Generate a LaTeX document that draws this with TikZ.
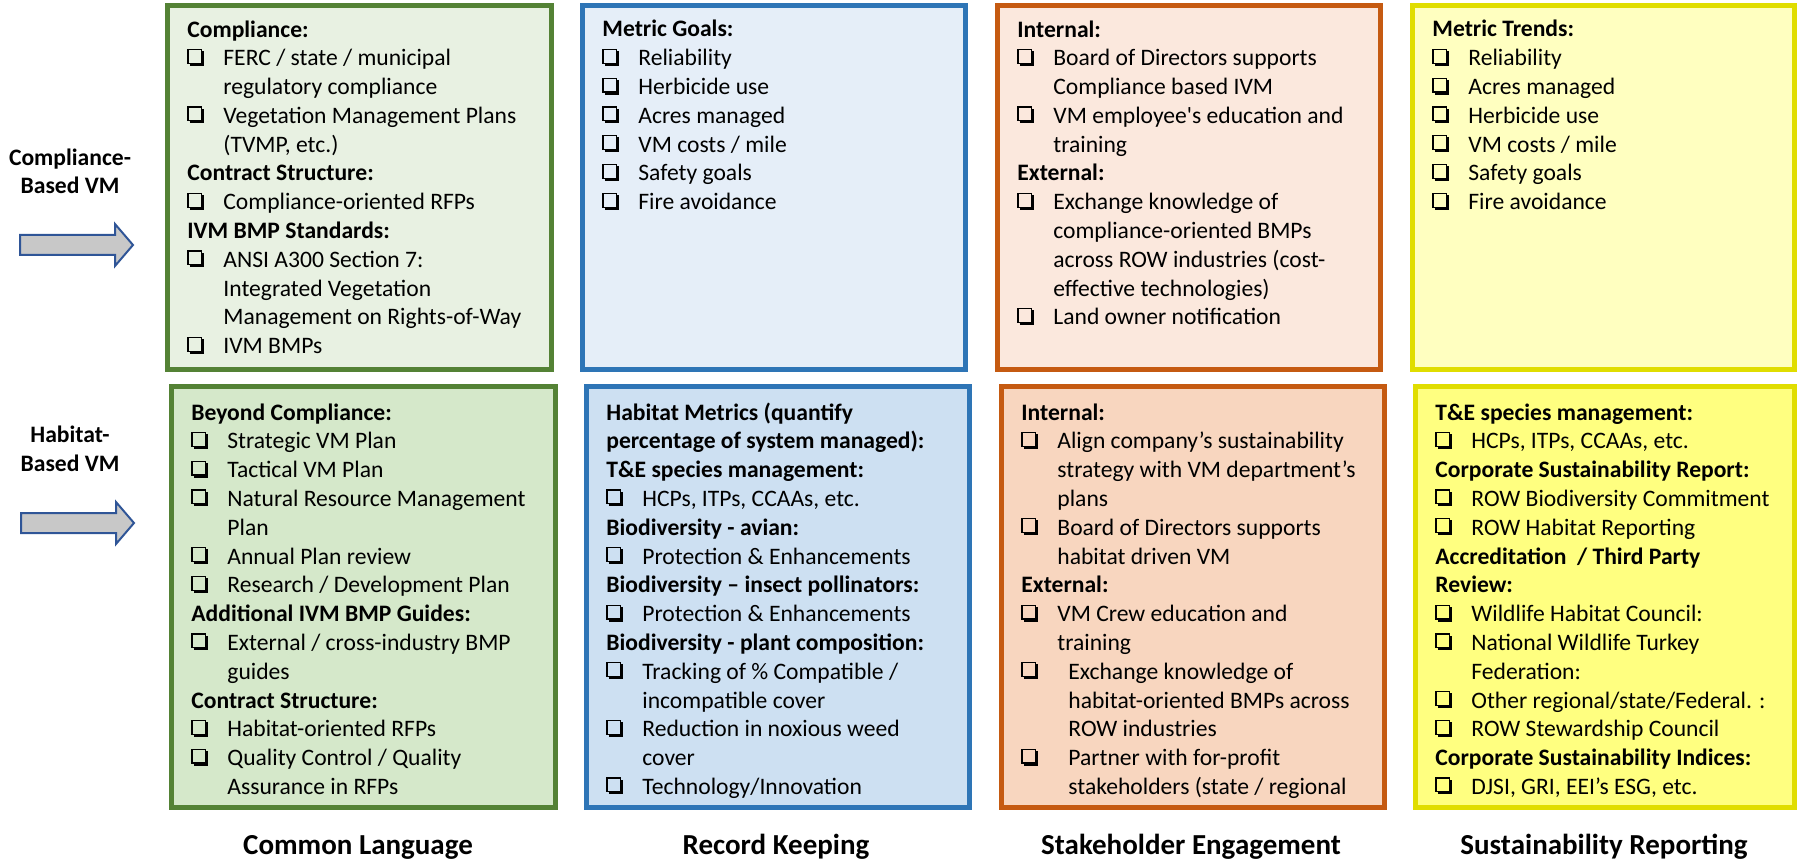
\documentclass[tikz,border=0pt]{standalone}
\usepackage{fontspec}
\setmainfont{Carlito}

\definecolor{grnline}{HTML}{548235}
\definecolor{grnfillA}{HTML}{E8F1E2}
\definecolor{grnfillB}{HTML}{D5E8CA}
\definecolor{blueline}{HTML}{2E75B6}
\definecolor{bluefillA}{HTML}{E5EEF8}
\definecolor{bluefillB}{HTML}{CDE0F2}
\definecolor{orgline}{HTML}{C55A11}
\definecolor{orgfillA}{HTML}{FBE8DD}
\definecolor{orgfillB}{HTML}{F8D6BF}
\definecolor{ylwline}{HTML}{E0DD00}
\definecolor{ylwfillA}{HTML}{FFFFC0}
\definecolor{ylwfillB}{HTML}{FFFF80}
\definecolor{arrfill}{HTML}{C8C8C8}
\definecolor{arrline}{HTML}{2F5597}

\newcommand\chkbox{\tikz[baseline=0pt,x=1pt,y=1pt]{\draw[line width=0.6pt] (0.3,1.3) rectangle (7.2,8.2); \draw[line width=1.2pt] (1.1,0.6) -- (7.9,0.6) -- (7.9,7.4);}}
\newcommand\itm{\makebox[18pt][l]{\chkbox}}
\newcommand\ind{\hspace*{18pt}}

\tikzset{
  box/.style={line width=2.5pt},
  % nodes are placed at the baseline of their last line
  txt/.style={anchor=base west, align=left, inner sep=0pt, font=\fontsize{11.8}{14.4}\selectfont},
  rowlab/.style={anchor=base, align=center, inner sep=0pt, font=\bfseries\fontsize{11.8}{14}\selectfont},
  collab/.style={anchor=base, inner sep=0pt, font=\bfseries\fontsize{14.5}{17}\selectfont},
  blockarrow/.style={draw=arrline, fill=arrfill, line width=1pt, line join=miter}
}

\begin{document}
\begin{tikzpicture}[x=0.5pt, y=-0.5pt]
\useasboundingbox (0,0) rectangle (1800,861);
% boxes
\draw[box, draw=grnline, fill=grnfillA] (167.5,5.5) rectangle (551.5,369.5);
\draw[box, draw=blueline, fill=bluefillA] (582.5,5.5) rectangle (965.5,369.5);
\draw[box, draw=orgline, fill=orgfillA] (997.5,5.5) rectangle (1380.5,369.5);
\draw[box, draw=ylwline, fill=ylwfillA] (1412.5,5.5) rectangle (1794.5,369.5);
\draw[box, draw=grnline, fill=grnfillB] (171.5,386.5) rectangle (555.5,807.5);
\draw[box, draw=blueline, fill=bluefillB] (586.5,386.5) rectangle (969.5,807.5);
\draw[box, draw=orgline, fill=orgfillB] (1001.5,386.5) rectangle (1384.5,807.5);
\draw[box, draw=ylwline, fill=ylwfillB] (1415.5,386.5) rectangle (1794.5,807.5);
% arrows
\draw[blockarrow] (20,235) -- (115,235) -- (115,224) -- (133,245) -- (115,266) -- (115,255) -- (20,255) -- cycle;
\draw[blockarrow] (21,513) -- (116,513) -- (116,502) -- (134,523) -- (116,544) -- (116,533) -- (21,533) -- cycle;
% row labels
\node[rowlab] (compvm) at (70,194) {Compliance-\\Based VM};
\node[rowlab] (habvm) at (70,471) {Habitat-\\Based VM};
% top row
\node[txt] (lang1) at (187,353.8) {\textbf{Compliance:}\\
\itm FERC / state / municipal\\
\ind regulatory compliance\\
\itm Vegetation Management Plans\\
\ind (TVMP, etc.)\\
\textbf{Contract Structure:}\\
\itm Compliance-oriented RFPs\\
\textbf{IVM BMP Standards:}\\
\itm ANSI A300 Section 7:\\
\ind Integrated Vegetation\\
\ind Management on Rights-of-Way\\
\itm IVM BMPs};
\node[txt] (rec1) at (602,209.8) {\textbf{Metric Goals:}\\
\itm Reliability\\
\itm Herbicide use\\
\itm Acres managed\\
\itm VM costs / mile\\
\itm Safety goals\\
\itm Fire avoidance};
\node[txt] (eng1) at (1017,325) {\textbf{Internal:}\\
\itm Board of Directors supports\\
\ind Compliance based IVM\\
\itm VM employee\textquotesingle s education and\\
\ind training\\
\textbf{External:}\\
\itm Exchange knowledge of\\
\ind compliance-oriented BMPs\\
\ind across ROW industries (cost-\\
\ind effective technologies)\\
\itm Land owner notification};
\node[txt] (rep1) at (1432,209.8) {\textbf{Metric Trends:}\\
\itm Reliability\\
\itm Acres managed\\
\itm Herbicide use\\
\itm VM costs / mile\\
\itm Safety goals\\
\itm Fire avoidance};
% bottom row
\node[txt] (lang2) at (191,794.4) {\textbf{Beyond Compliance:}\\
\itm Strategic VM Plan\\
\itm Tactical VM Plan\\
\itm Natural Resource Management\\
\ind Plan\\
\itm Annual Plan review\\
\itm Research / Development Plan\\
\textbf{Additional IVM BMP Guides:}\\
\itm External / cross-industry BMP\\
\ind guides\\
\textbf{Contract Structure:}\\
\itm Habitat-oriented RFPs\\
\itm Quality Control / Quality\\
\ind Assurance in RFPs};
\node[txt] (rec2) at (606,794.4) {\textbf{Habitat Metrics (quantify}\\
\textbf{percentage of system managed):}\\
\textbf{T\&E species management:}\\
\itm HCPs, ITPs, CCAAs, etc.\\
\textbf{Biodiversity - avian:}\\
\itm Protection \& Enhancements\\
\textbf{Biodiversity – insect pollinators:}\\
\itm Protection \& Enhancements\\
\textbf{Biodiversity - plant composition:}\\
\itm Tracking of \% Compatible /\\
\ind incompatible cover\\
\itm Reduction in noxious weed\\
\ind cover\\
\itm Technology/Innovation};
\node[txt] (eng2) at (1021,794.4) {\textbf{Internal:}\\
\itm Align company’s sustainability\\
\ind strategy with VM department’s\\
\ind plans\\
\itm Board of Directors supports\\
\ind habitat driven VM\\
\textbf{External:}\\
\itm VM Crew education and\\
\ind training\\
\itm\hspace*{5.5pt}Exchange knowledge of\\
\ind\hspace*{5.5pt}habitat-oriented BMPs across\\
\ind\hspace*{5.5pt}ROW industries\\
\itm\hspace*{5.5pt}Partner with for-profit\\
\ind\hspace*{5.5pt}stakeholders (state / regional};
\node[txt] (rep2) at (1435,794.4) {\textbf{T\&E species management:}\\
\itm HCPs, ITPs, CCAAs, etc.\\
\textbf{Corporate Sustainability Report:}\\
\itm ROW Biodiversity Commitment\\
\itm ROW Habitat Reporting\\
\textbf{Accreditation\ \ / Third Party}\\
\textbf{Review:}\\
\itm Wildlife Habitat Council:\\
\itm National Wildlife Turkey\\
\ind Federation:\\
\itm Other regional/state/Federal. :\\
\itm ROW Stewardship Council\\
\textbf{Corporate Sustainability Indices:}\\
\itm DJSI, GRI, EEI’s ESG, etc.};
% column labels
\node[collab] (common) at (358,854) {Common Language};
\node[collab] (record) at (776,854) {Record Keeping};
\node[collab] (stake) at (1191,854) {Stakeholder Engagement};
\node[collab] (sust) at (1604,854) {Sustainability Reporting};
\end{tikzpicture}
\end{document}
